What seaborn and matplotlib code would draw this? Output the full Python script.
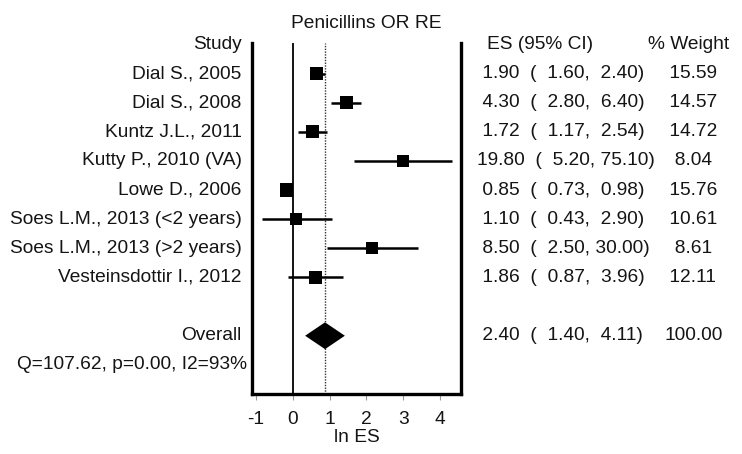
import numpy as np
import pandas as pd
import seaborn as sns
import matplotlib
matplotlib.use("Agg")
import matplotlib.pyplot as plt
from matplotlib import transforms

# Study-level results (odds ratios, 95% CI, random-effects weights)
studies = [
    "Dial S., 2005",
    "Dial S., 2008",
    "Kuntz J.L., 2011",
    "Kutty P., 2010 (VA)",
    "Lowe D., 2006",
    "Soes L.M., 2013 (<2 years)",
    "Soes L.M., 2013 (>2 years)",
    "Vesteinsdottir I., 2012",
]
es = [1.90, 4.30, 1.72, 19.80, 0.85, 1.10, 8.50, 1.86]
ci_low = [1.60, 2.80, 1.17, 5.20, 0.73, 0.43, 2.50, 0.87]
ci_high = [2.40, 6.40, 2.54, 75.10, 0.98, 2.90, 30.00, 3.96]
weights = [15.59, 14.57, 14.72, 8.04, 15.76, 10.61, 8.61, 12.11]

# Pooled estimate
overall_es = 2.40
overall_low = 1.40
overall_high = 4.11
overall_weight = 100.00
heterogeneity = "Q=107.62, p=0.00, I2=93%"

x_ticks = [-1, 0, 1, 2, 3, 4]

sns.set_theme(style="white")
plt.rcParams["font.family"] = ["Liberation Sans", "DejaVu Sans"]
FS = 13.8
INK = "#141414"

W, H = 742, 454
fig = plt.figure(figsize=(W / 100, H / 100), dpi=100)
ax = fig.add_axes([252.3 / W, 1 - 394 / H, (460.7 - 252.3) / W, (394 - 43) / H])

df = pd.DataFrame({
    "study": studies,
    "row": np.arange(1, len(studies) + 1),
    "ln_es": np.log(es),
    "ln_lo": np.log(ci_low),
    "ln_hi": np.log(ci_high),
    "weight": weights,
})
overall_row = len(studies) + 2
het_row = overall_row + 1

# reference lines: null effect and pooled effect
ax.axvline(0, color="black", lw=1.3, zorder=1)
ax.axvline(np.log(overall_es), color="#333333", lw=1.0, ls=(0, (1, 1)), zorder=1)

# confidence intervals and study boxes
ax.hlines(df["row"], df["ln_lo"], df["ln_hi"], color="black", lw=1.8, zorder=2)
sns.scatterplot(data=df, x="ln_es", y="row", size="weight", sizes=(72, 92),
                marker="s", color="black", edgecolor="black", linewidth=0,
                legend=False, ax=ax, zorder=3)

# pooled diamond
d_lo, d_es, d_hi = np.log(overall_low), np.log(overall_es), np.log(overall_high)
half_h = 0.46
ax.fill([d_lo, d_es, d_hi, d_es],
        [overall_row, overall_row - half_h, overall_row, overall_row + half_h],
        color="black", lw=0, zorder=3)

ax.set_xlim(-1.095, 4.553)
ax.set_ylim(12, -0.05)
ax.set_yticks([])
ax.set_xticks(x_ticks)
ax.set_xticklabels([str(t) for t in x_ticks])
ax.tick_params(axis="x", which="major", bottom=True, length=4, width=0.8,
               color="#9a9a9a", direction="out", labelsize=FS, pad=8.3,
               labelcolor=INK)
ax.set_xlabel("ln ES", fontsize=FS, color=INK, labelpad=1)
ax.set_ylabel("")
ax.spines["top"].set_visible(False)
for side in ("left", "right", "bottom"):
    ax.spines[side].set_visible(True)
    ax.spines[side].set_color("black")
    ax.spines[side].set_linewidth(2.4)

# text columns beside the plot
trans = transforms.blended_transform_factory(fig.transFigure, ax.transData)
label_x = 241.7 / W
ax.text(label_x, 0, "Study", ha="right", va="center", fontsize=FS,
        color=INK, transform=trans, clip_on=False)
for _, r in df.iterrows():
    ax.text(label_x, r["row"], r["study"], ha="right", va="center",
            fontsize=FS, color=INK, transform=trans, clip_on=False)
ax.text(label_x, overall_row, "Overall", ha="right", va="center",
        fontsize=FS, color=INK, transform=trans, clip_on=False)
ax.text(247.3 / W, het_row, heterogeneity, ha="right", va="center",
        fontsize=FS, color=INK, transform=trans, clip_on=False)

es_x = 476.7 / W
wt_x = 664.0 / W
ax.text(486.7 / W, 0, "ES (95% CI)", ha="left", va="center", fontsize=FS,
        color=INK, transform=trans, clip_on=False)
ax.text(648.0 / W, 0, "% Weight", ha="left", va="center", fontsize=FS,
        color=INK, transform=trans, clip_on=False)
for row, e, lo, hi, w in zip(df["row"], es, ci_low, ci_high, weights):
    ax.text(es_x, row, f"{e:5.2f}  ( {lo:5.2f}, {hi:5.2f})", ha="left",
            va="center", fontsize=FS, color=INK, transform=trans, clip_on=False)
    ax.text(wt_x, row, f"{w:6.2f}", ha="left", va="center", fontsize=FS,
            color=INK, transform=trans, clip_on=False)
ax.text(es_x, overall_row,
        f"{overall_es:5.2f}  ( {overall_low:5.2f}, {overall_high:5.2f})",
        ha="left", va="center", fontsize=FS, color=INK, transform=trans,
        clip_on=False)
ax.text(wt_x, overall_row, f"{overall_weight:6.2f}", ha="left", va="center",
        fontsize=FS, color=INK, transform=trans, clip_on=False)

fig.text(366.7 / W, 1 - 23.3 / H, "Penicillins OR RE", ha="center",
         va="center", fontsize=FS, color=INK)

fig.savefig("out.png", dpi=100, facecolor="white")
